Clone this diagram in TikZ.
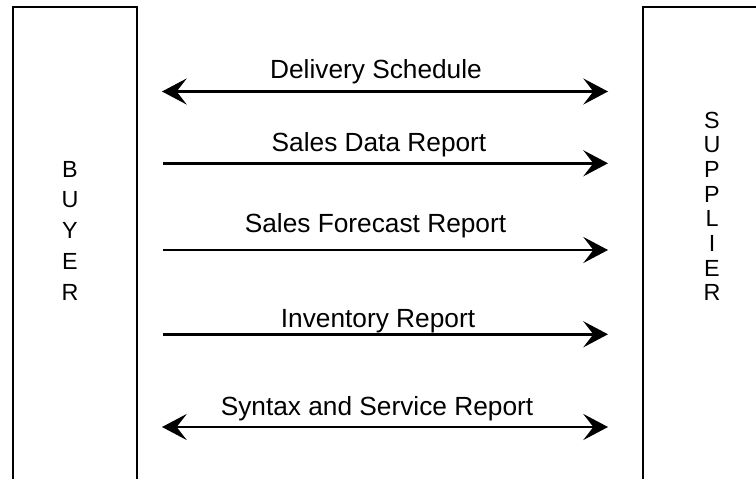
\documentclass[tikz,border=0pt]{standalone}
\usepackage{fontspec}
\setmainfont{Liberation Sans}
\usetikzlibrary{arrows.meta}
\begin{document}
\begin{tikzpicture}[x=0.75pt,y=-0.75pt,
  box/.style={draw=black, line width=1.4pt, fill=none},
  flow/.style={line width=2pt, -{Stealth[length=18.5pt,width=19.5pt,inset=7.5pt]}},
  biflow/.style={line width=2pt, {Stealth[length=18.5pt,width=19.5pt,inset=7.5pt]}-{Stealth[length=18.5pt,width=19.5pt,inset=7.5pt]}},
  lbl/.style={font=\fontsize{19.7}{23}\selectfont, anchor=base, inner sep=0pt},
  vlet/.style={font=\fontsize{17.5}{21}\selectfont, anchor=base, inner sep=0pt}]
\useasboundingbox (0,0) rectangle (756,478);
\clip (0,0) rectangle (756,478);
% boxes (open beyond picture edge)
\draw[box] (13,490) -- (13,7) -- (137,7) -- (137,490);
\draw[box] (643,490) -- (643,7) -- (790,7) -- (790,490);
% vertical names
\foreach \l [count=\i from 0] in {B,U,Y,E,R}
  \node[vlet] (b\i) at (70,{177+30.75*\i}) {\l};
\foreach \l [count=\i from 0] in {S,U,P,P,L,I,E,R}
  \node[vlet] (s\i) at (712,{128+24.7*\i}) {\l};
% connector ends
\coordinate (d1) at (162,91.5);  \coordinate (d2) at (608,91.5);
\coordinate (a1) at (163,163.3); \coordinate (a2) at (608,163.3);
\coordinate (f1) at (163,250);   \coordinate (f2) at (608,250);
\coordinate (i1) at (163,334.3); \coordinate (i2) at (608,334.3);
\coordinate (y1) at (162,427);   \coordinate (y2) at (608,427);
\draw[biflow] (d1) -- (d2);
\draw[flow] (a1) -- (a2);
\draw[flow] (f1) -- (f2);
\draw[flow] (i1) -- (i2);
\draw[biflow] (y1) -- (y2);
% labels
\node[lbl] (ld) at (376,79) {Delivery Schedule};
\node[lbl] (la) at (379,151.5) {Sales Data Report};
\node[lbl] (lf) at (375.5,232) {Sales Forecast Report};
\node[lbl] (li) at (378,327.5) {Inventory Report};
\node[lbl] (ly) at (377,415.5) {Syntax and Service Report};
\end{tikzpicture}
\end{document}
